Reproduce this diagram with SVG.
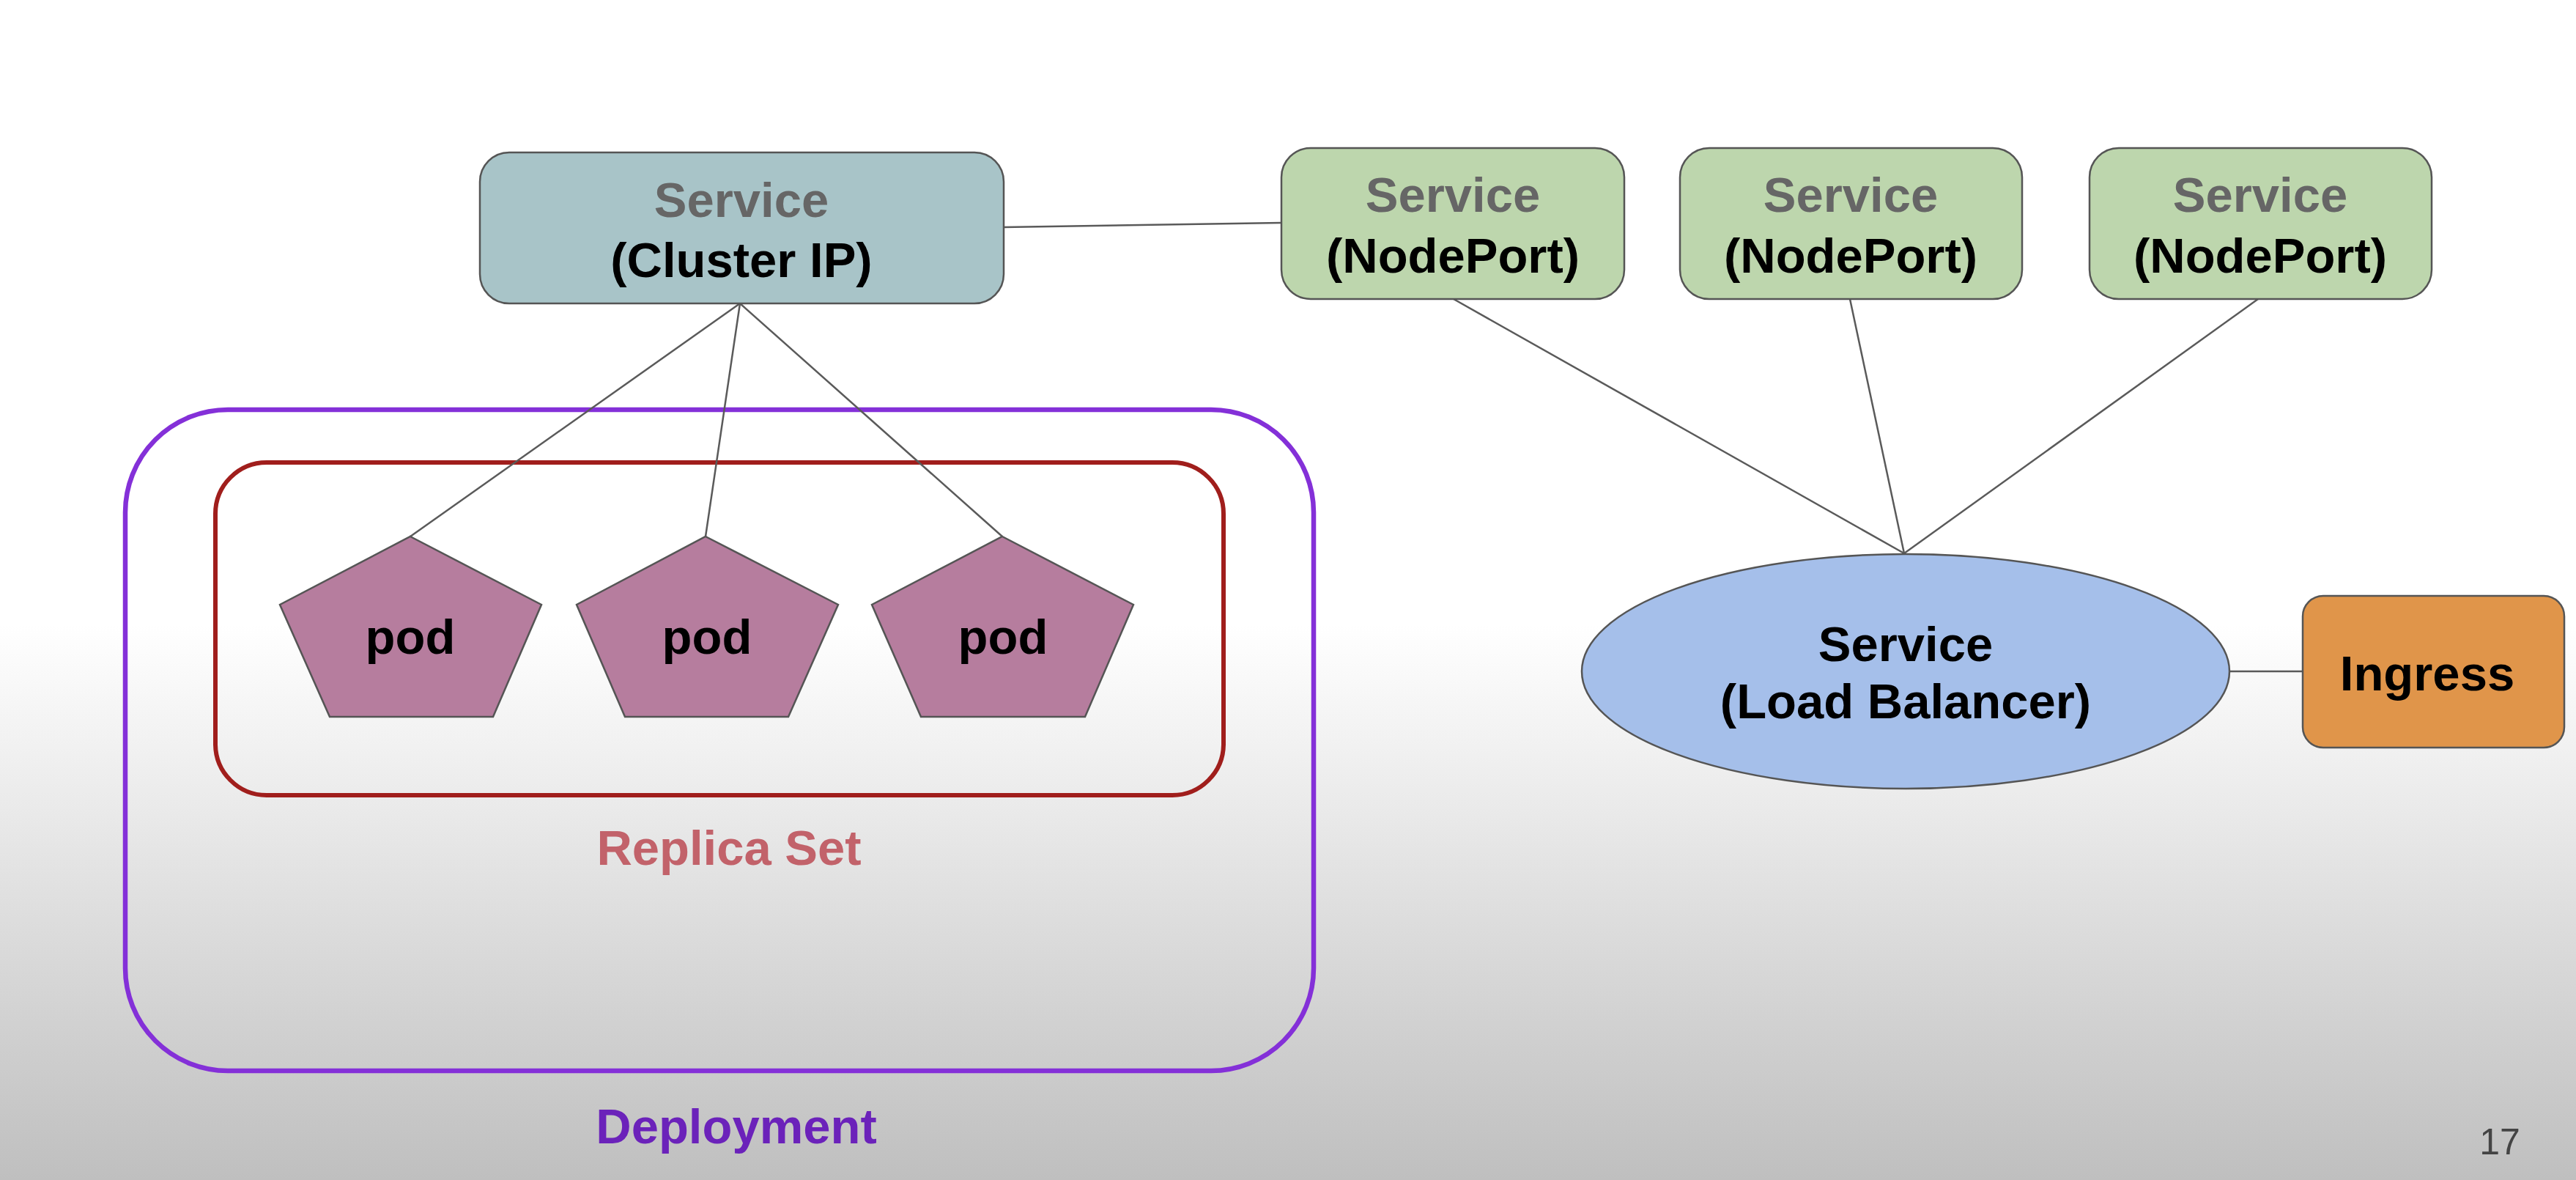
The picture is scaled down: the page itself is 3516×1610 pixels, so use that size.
<svg xmlns="http://www.w3.org/2000/svg" width="3516" height="1610" viewBox="0 0 3516 1610">
  <defs>
    <linearGradient id="bg" x1="0" y1="0" x2="0" y2="1610" gradientUnits="userSpaceOnUse">
      <stop offset="0" stop-color="#ffffff"/>
      <stop offset="0.53" stop-color="#ffffff"/>
      <stop offset="1" stop-color="#bfbfbf"/>
    </linearGradient>
  </defs>
  <style>
    text { font-family: "Liberation Sans", Arial, sans-serif; font-weight: bold; font-size: 67px; text-anchor: middle; }
    .gray { fill: #666666; }
    .black { fill: #000000; }
    .box { stroke: #555555; stroke-width: 2.5; }
    .conn line { stroke: #5a5a5a; stroke-width: 2.5; }
  </style>
  <rect x="0" y="0" width="3516" height="1610" fill="url(#bg)"/>

  <g id="deployment">
    <rect x="171" y="559" width="1622" height="902" rx="140" ry="140" fill="none" stroke="#8430D8" stroke-width="6.5"/>
    <text x="1005" y="1560" fill="#6B22BA">Deployment</text>
  </g>

  <g id="replica-set">
    <rect x="294" y="631" width="1376" height="454" rx="70" ry="70" fill="none" stroke="#A01E1C" stroke-width="6"/>
    <text x="995" y="1180" fill="#C2626A">Replica Set</text>
  </g>

  <g class="conn" id="connectors">
    <line x1="1010" y1="414" x2="560" y2="732"/>
    <line x1="1010" y1="414" x2="963" y2="732"/>
    <line x1="1010" y1="414" x2="1368" y2="732"/>
    <line x1="1370" y1="310" x2="1748" y2="304"/>
    <line x1="1984" y1="408" x2="2599" y2="755"/>
    <line x1="2525" y1="408" x2="2599" y2="755"/>
    <line x1="3082" y1="408" x2="2599" y2="755"/>
    <line x1="3044" y1="916" x2="3143" y2="916"/>
  </g>

  <g id="pod-1">
    <polygon class="box" points="560,732 739,825 673,978 450,978 382,825" fill="#B67D9E"/>
    <text x="560" y="892" class="black">pod</text>
  </g>
  <g id="pod-2">
    <polygon class="box" points="963,732 1144,825 1076,978 853,978 787,825" fill="#B67D9E"/>
    <text x="965" y="892" class="black">pod</text>
  </g>
  <g id="pod-3">
    <polygon class="box" points="1368,732 1547,825 1481,978 1257,978 1190,825" fill="#B67D9E"/>
    <text x="1369" y="892" class="black">pod</text>
  </g>

  <g id="service-cluster-ip">
    <rect class="box" x="655" y="208" width="715" height="206" rx="40" ry="40" fill="#A8C4C8"/>
    <text x="1012" y="296" class="gray">Service</text>
    <text x="1012" y="378" class="black">(Cluster IP)</text>
  </g>

  <g id="service-nodeport-1">
    <rect class="box" x="1749" y="202" width="468" height="206" rx="40" ry="40" fill="#BDD6AD"/>
    <text x="1983" y="289" class="gray">Service</text>
    <text x="1983" y="372" class="black">(NodePort)</text>
  </g>
  <g id="service-nodeport-2">
    <rect class="box" x="2293" y="202" width="467" height="206" rx="40" ry="40" fill="#BDD6AD"/>
    <text x="2526" y="289" class="gray">Service</text>
    <text x="2526" y="372" class="black">(NodePort)</text>
  </g>
  <g id="service-nodeport-3">
    <rect class="box" x="2852" y="202" width="467" height="206" rx="40" ry="40" fill="#BDD6AD"/>
    <text x="3085" y="289" class="gray">Service</text>
    <text x="3085" y="372" class="black">(NodePort)</text>
  </g>

  <g id="service-load-balancer">
    <ellipse class="box" cx="2601" cy="916" rx="442" ry="160" fill="#A5BFEA"/>
    <text x="2601" y="902" class="black">Service</text>
    <text x="2601" y="980" class="black">(Load Balancer)</text>
  </g>

  <g id="ingress">
    <rect class="box" x="3143" y="813" width="357" height="207" rx="28" ry="28" fill="#E0954A"/>
    <text x="3313" y="942" class="black">Ingress</text>
  </g>

  <text x="3412" y="1575" style="font-weight:normal;font-size:50px;fill:#444444">17</text>
</svg>
